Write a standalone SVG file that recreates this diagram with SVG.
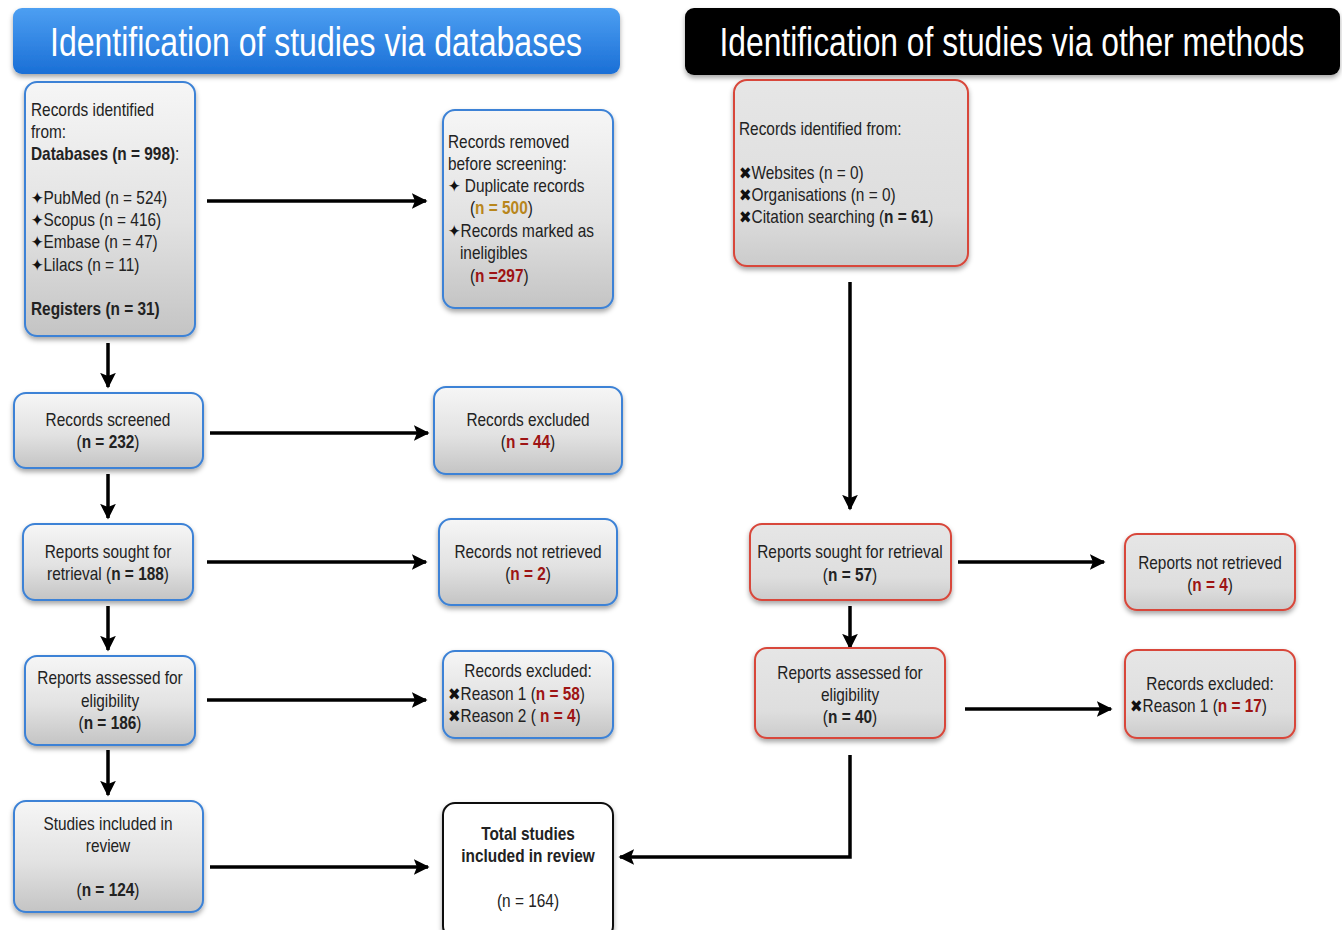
<svg xmlns="http://www.w3.org/2000/svg" width="1342" height="930" viewBox="0 0 1342 930">
<defs>
<linearGradient id="gBox" x1="0" y1="0" x2="0" y2="1">
<stop offset="0" stop-color="#f6f6f6"/>
<stop offset="0.55" stop-color="#e2e2e2"/>
<stop offset="1" stop-color="#c4c4c4"/>
</linearGradient>
<linearGradient id="gRed" x1="0" y1="0" x2="0" y2="1">
<stop offset="0" stop-color="#e6e6e6"/>
<stop offset="0.7" stop-color="#dedede"/>
<stop offset="1" stop-color="#cbcbcb"/>
</linearGradient>
<linearGradient id="gBlue" x1="0" y1="0" x2="0" y2="1">
<stop offset="0" stop-color="#4d9ff2"/>
<stop offset="1" stop-color="#1a6fd6"/>
</linearGradient>
<filter id="sh" x="-10%" y="-10%" width="120%" height="125%">
<feDropShadow dx="0" dy="3" stdDeviation="2.5" flood-color="#000" flood-opacity="0.35"/>
</filter>
<marker id="ah" viewBox="0 0 10 10" refX="9" refY="5" markerWidth="4.5" markerHeight="4.5" orient="auto" markerUnits="strokeWidth">
<path d="M0,0 L10,5 L0,10 L2,5 Z" fill="#000"/>
</marker>
</defs>
<style>
text{font-family:"Liberation Sans",Arial,sans-serif;font-size:17.5px;fill:#222}
.c{text-anchor:middle}
.b{font-weight:bold}
.r{fill:#9e1414;font-weight:bold}
.o{fill:#b8861c;font-weight:bold}
.sym{font-family:"DejaVu Sans",sans-serif;font-size:17px;fill:#111}
.hd{fill:#fff;font-size:40px}
.bx{fill:url(#gBox);stroke:#3c82d6;stroke-width:2;filter:url(#sh)}
.rx{fill:url(#gRed);stroke:#d8473a;stroke-width:2;filter:url(#sh)}
.wx{fill:#fff;stroke:#111;stroke-width:2;filter:url(#sh)}
.ln{fill:none;stroke:#000;stroke-width:3.5;marker-end:url(#ah)}
</style>
<rect width="1342" height="930" fill="#fff"/>

<g id="hdr-db">
<rect x="13" y="8" width="607" height="66" rx="9" fill="url(#gBlue)" filter="url(#sh)"/>
<g transform="translate(316 56) scale(0.8 1)"><text class="hd c" x="0" y="0">Identification of studies via databases</text></g>
</g>
<g id="hdr-other">
<rect x="685" y="8" width="655" height="67" rx="9" fill="#000" filter="url(#sh)"/>
<g transform="translate(1012 56) scale(0.795 1)"><text class="hd c" x="0" y="0">Identification of studies via other methods</text></g>
</g>

<g id="connectors">
<line class="ln" x1="207" y1="201" x2="426" y2="201"/>
<line class="ln" x1="108" y1="343" x2="108" y2="387"/>
<line class="ln" x1="210" y1="433" x2="428" y2="433"/>
<line class="ln" x1="108" y1="474" x2="108" y2="518"/>
<line class="ln" x1="207" y1="562" x2="426" y2="562"/>
<line class="ln" x1="108" y1="606" x2="108" y2="650"/>
<line class="ln" x1="207" y1="700" x2="426" y2="700"/>
<line class="ln" x1="108" y1="750" x2="108" y2="795"/>
<line class="ln" x1="210" y1="867" x2="428" y2="867"/>
<line class="ln" x1="850" y1="282" x2="850" y2="509"/>
<line class="ln" x1="958" y1="562" x2="1104" y2="562"/>
<line class="ln" x1="850" y1="606" x2="850" y2="648"/>
<line class="ln" x1="965" y1="709" x2="1111" y2="709"/>
<polyline class="ln" points="850,755 850,857 620,857"/>
</g>

<g id="n-identified">
<rect class="bx" x="25" y="82" width="170" height="254" rx="12"/>
<g transform="translate(31 0) scale(0.88 1)">
<text x="0" y="116">Records identified</text>
<text x="0" y="138">from:</text>
<text x="0" y="160"><tspan class="b">Databases (n = 998)</tspan>:</text>
<text x="0" y="204"><tspan class="sym">✦</tspan>PubMed (n = 524)</text>
<text x="0" y="226"><tspan class="sym">✦</tspan>Scopus (n = 416)</text>
<text x="0" y="248"><tspan class="sym">✦</tspan>Embase (n = 47)</text>
<text x="0" y="271"><tspan class="sym">✦</tspan>Lilacs (n = 11)</text>
<text x="0" y="315" class="b">Registers (n = 31)</text>
</g>
</g>
<g id="n-removed">
<rect class="bx" x="443" y="110" width="170" height="198" rx="12"/>
<g transform="translate(448 0) scale(0.88 1)">
<text x="0" y="148">Records removed</text>
<text x="0" y="170">before screening:</text>
<text x="0" y="192"><tspan class="sym">✦</tspan> Duplicate records</text>
<text x="25" y="214">(<tspan class="o">n = 500</tspan>)</text>
<text x="0" y="237"><tspan class="sym">✦</tspan>Records marked as</text>
<text x="13.6" y="259">ineligibles</text>
<text x="25" y="282">(<tspan class="r">n =297</tspan>)</text>
</g>
</g>
<g id="n-screened">
<rect class="bx" x="14" y="393" width="189" height="75" rx="12"/>
<g transform="translate(108 0) scale(0.88 1)">
<text class="c" x="0" y="426">Records screened</text>
<text class="c" x="0" y="448">(<tspan class="b">n = 232</tspan>)</text>
</g>
</g>
<g id="n-excluded1">
<rect class="bx" x="434" y="387" width="188" height="87" rx="12"/>
<g transform="translate(528 0) scale(0.88 1)">
<text class="c" x="0" y="426">Records excluded</text>
<text class="c" x="0" y="448">(<tspan class="r">n = 44</tspan>)</text>
</g>
</g>
<g id="n-sought">
<rect class="bx" x="23" y="524" width="170" height="76" rx="12"/>
<g transform="translate(108 0) scale(0.88 1)">
<text class="c" x="0" y="558">Reports sought for</text>
<text class="c" x="0" y="580">retrieval (<tspan class="b">n = 188</tspan>)</text>
</g>
</g>
<g id="n-notretrieved">
<rect class="bx" x="439" y="519" width="178" height="86" rx="12"/>
<g transform="translate(528 0) scale(0.88 1)">
<text class="c" x="0" y="558">Records not retrieved</text>
<text class="c" x="0" y="580">(<tspan class="r">n = 2</tspan>)</text>
</g>
</g>
<g id="n-assessed">
<rect class="bx" x="25" y="656" width="170" height="89" rx="12"/>
<g transform="translate(110 0) scale(0.88 1)">
<text class="c" x="0" y="684">Reports assessed for</text>
<text class="c" x="0" y="707">eligibility</text>
<text class="c" x="0" y="729">(<tspan class="b">n = 186</tspan>)</text>
</g>
</g>
<g id="n-excluded2">
<rect class="bx" x="443" y="651" width="170" height="87" rx="12"/>
<g transform="translate(448 0) scale(0.88 1)">
<text class="c" x="91" y="677">Records excluded:</text>
<text x="0" y="700"><tspan class="sym">✖</tspan>Reason 1 (<tspan class="r">n = 58</tspan>)</text>
<text x="0" y="722"><tspan class="sym">✖</tspan>Reason 2 ( <tspan class="r">n = 4</tspan>)</text>
</g>
</g>
<g id="n-included">
<rect class="bx" x="14" y="801" width="189" height="111" rx="12"/>
<g transform="translate(108 0) scale(0.88 1)">
<text class="c" x="0" y="830">Studies included in</text>
<text class="c" x="0" y="852">review</text>
<text class="c" x="0" y="896">(<tspan class="b">n = 124</tspan>)</text>
</g>
</g>
<g id="n-total">
<rect class="wx" x="443" y="803" width="170" height="135" rx="12"/>
<g transform="translate(528 0) scale(0.88 1)">
<text class="c b" x="0" y="840">Total studies</text>
<text class="c b" x="0" y="862">included in review</text>
<text class="c" x="0" y="907">(n = 164)</text>
</g>
</g>

<g id="n-other-identified">
<rect class="rx" x="734" y="80" width="234" height="186" rx="13"/>
<g transform="translate(739 0) scale(0.88 1)">
<text x="0" y="135">Records identified from:</text>
<text x="0" y="179"><tspan class="sym">✖</tspan>Websites (n = 0)</text>
<text x="0" y="201"><tspan class="sym">✖</tspan>Organisations (n = 0)</text>
<text x="0" y="223"><tspan class="sym">✖</tspan>Citation searching (<tspan class="b">n = 61</tspan>)</text>
</g>
</g>
<g id="n-other-sought">
<rect class="rx" x="750" y="524" width="201" height="76" rx="12"/>
<g transform="translate(850 0) scale(0.88 1)">
<text class="c" x="0" y="558">Reports sought for retrieval</text>
<text class="c" x="0" y="581">(<tspan class="b">n = 57</tspan>)</text>
</g>
</g>
<g id="n-other-notretrieved">
<rect class="rx" x="1125" y="534" width="170" height="76" rx="12"/>
<g transform="translate(1210 0) scale(0.88 1)">
<text class="c" x="0" y="569">Reports not retrieved</text>
<text class="c" x="0" y="591">(<tspan class="r">n = 4</tspan>)</text>
</g>
</g>
<g id="n-other-assessed">
<rect class="rx" x="755" y="648" width="190" height="90" rx="12"/>
<g transform="translate(850 0) scale(0.88 1)">
<text class="c" x="0" y="679">Reports assessed for</text>
<text class="c" x="0" y="701">eligibility</text>
<text class="c" x="0" y="723">(<tspan class="b">n = 40</tspan>)</text>
</g>
</g>
<g id="n-other-excluded">
<rect class="rx" x="1125" y="650" width="170" height="88" rx="12"/>
<g transform="translate(1130 0) scale(0.88 1)">
<text class="c" x="91" y="690">Records excluded:</text>
<text x="0" y="712"><tspan class="sym">✖</tspan>Reason 1 (<tspan class="r">n = 17</tspan>)</text>
</g>
</g>
</svg>
